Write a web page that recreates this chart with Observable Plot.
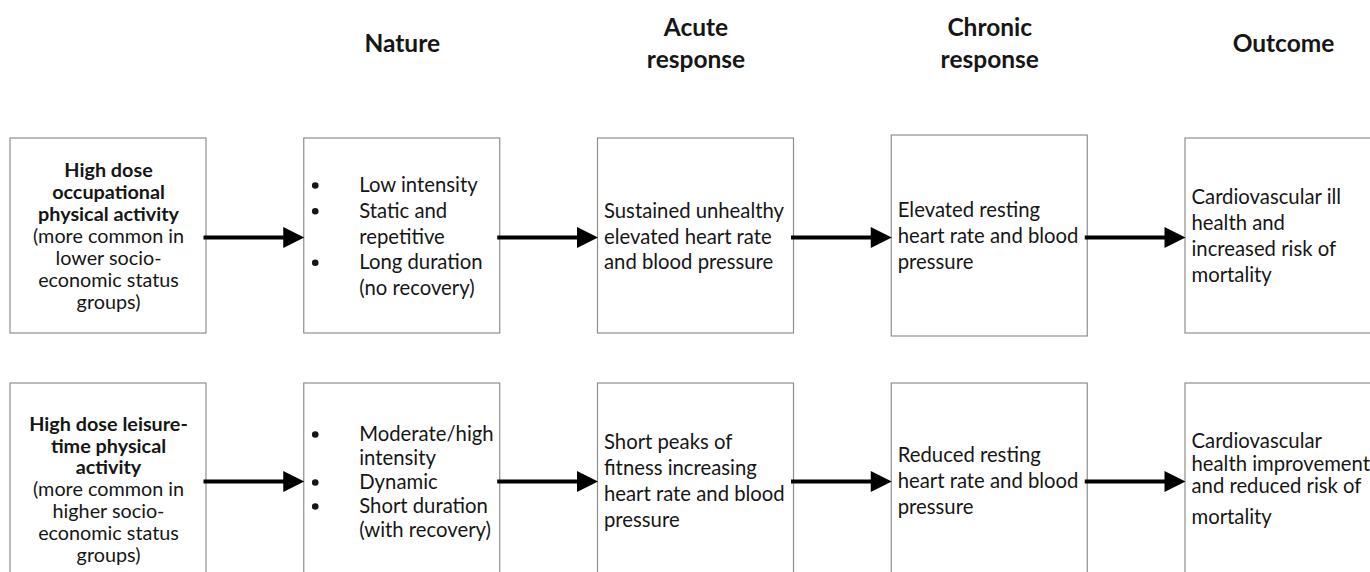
<!DOCTYPE html>
<html>
<head>
<meta charset="utf-8">
<script src="https://cdn.jsdelivr.net/npm/d3@7"></script>
<script src="https://cdn.jsdelivr.net/npm/@observablehq/plot@0.6"></script>
<style>
  html, body { margin: 0; padding: 0; background: white; overflow: hidden; }
  #chart svg { overflow: hidden; display: block; }
</style>
</head>
<body>
<div id="chart"></div>
<script>
// ---------- data ----------
const stages = ["Nature", "Acute\nresponse", "Chronic\nresponse", "Outcome"];
const exposureBold = [
  ["High dose", "occupational", "physical activity"],
  ["High dose leisure-", "time physical", "activity"]
];
const exposureNote = [
  ["(more common in", "lower socio-", "economic status", "groups)"],
  ["(more common in", "higher socio-", "economic status", "groups)"]
];
const natureItems = [
  [["Low intensity"], ["Static and", "repetitive"], ["Long duration", "(no recovery)"]],
  [["Moderate/high", "intensity"], ["Dynamic"], ["Short duration", "(with recovery)"]]
];
const acuteText = [
  ["Sustained unhealthy", "elevated heart rate", "and blood pressure"],
  ["Short peaks of", "fitness increasing", "heart rate and blood", "pressure"]
];
const chronicText = [
  ["Elevated resting", "heart rate and blood", "pressure"],
  ["Reduced resting", "heart rate and blood", "pressure"]
];
const outcomeText = [
  ["Cardiovascular ill", "health and", "increased risk of", "mortality"],
  ["Cardiovascular", "health improvement", "and reduced risk of", "mortality"]
];

// ---------- layout ----------
const W = 1370, H = 572;
const colLeft = i => 10 + i * 293.75;
const boxW = 196, boxH = 195;
const rowTop = r => 138 + r * 245;
const arrowY = r => 237 + r * 244;
const font = "Lato, 'Open Sans', sans-serif";
const ink = "#161616";
const fs = 20.3, fsExpo = 19.8;

// text line layout: first line y and steps
const lay = {
  expo:    [{y0: 170, step: 22}, {y0: 424, step: 21.8}],
  nature:  [{y0: 185, step: 25.75}, {y0: 434, step: 24}],
  acute:   [{y0: 211, step: 25.5}, {y0: 442, step: 26}],
  chronic: [{y0: 210, step: 26}, {y0: 455, step: 26}],
  outcome: [{y0: 197, step: 26}, {y0: 441, gaps: [22.5, 22.5, 31]}]
};
function place(lines, l) {
  let y = l.y0;
  return lines.map((t, i) => {
    if (i > 0) y += l.gaps ? l.gaps[i - 1] : l.step;
    return {t, y};
  });
}

const boxes = [];
for (let r = 0; r < 2; r++) for (let c = 0; c < 5; c++) {
  const tall = (r === 0 && c === 3) ? 3 : 0;
  boxes.push({x1: colLeft(c), x2: colLeft(c) + boxW, y1: rowTop(r) - tall, y2: rowTop(r) + boxH + tall});
}
const arrows = [];
for (let r = 0; r < 2; r++) for (let c = 0; c < 4; c++) {
  arrows.push({x1: colLeft(c) + boxW - 3, tip: colLeft(c + 1), y: arrowY(r)});
}

const boldLines = [], centerLines = [], leftLines = [], bullets = [];
for (let r = 0; r < 2; r++) {
  const all = place([...exposureBold[r], ...exposureNote[r]], lay.expo[r]);
  all.forEach((d, i) => (i < exposureBold[r].length ? boldLines : centerLines)
    .push({t: d.t, x: colLeft(0) + boxW / 2, y: d.y}));
  const flat = [];
  natureItems[r].forEach(item => item.forEach((t, j) => flat.push({t, bullet: j === 0})));
  place(flat.map(d => d.t), lay.nature[r]).forEach((d, i) => {
    leftLines.push({t: d.t, x: colLeft(1) + 55, y: d.y});
    if (flat[i].bullet) bullets.push({x: colLeft(1) + 11, y: d.y});
  });
  [[acuteText, "acute", 2], [chronicText, "chronic", 3], [outcomeText, "outcome", 4]].forEach(([arr, key, c]) => {
    place(arr[r], lay[key][r]).forEach(d => leftLines.push({t: d.t, x: colLeft(c) + 6, y: d.y}));
  });
}
const headers = stages.map((s, i) => ({t: s, x: colLeft(i + 1) + boxW / 2, y: 41}));

const arrowHead = {
  draw(ctx, size) {
    const r = Math.sqrt(size / Math.PI);
    ctx.moveTo(r, 0);
    ctx.lineTo(-r, -r);
    ctx.lineTo(-r, r);
    ctx.closePath();
  }
};

const plot = Plot.plot({
  width: W, height: H, margin: 0,
  style: {background: "white", fontFamily: font},
  x: {domain: [0, W], range: [0, W], axis: null},
  y: {domain: [0, H], range: [0, H], axis: null},
  marks: [
    Plot.rect(boxes, {x1: "x1", x2: "x2", y1: "y1", y2: "y2", fill: "white", stroke: "#8f8f8f", strokeWidth: 1.2}),
    Plot.link(arrows, {x1: "x1", x2: d => d.tip - 14, y1: "y", y2: "y", stroke: "black", strokeWidth: 4}),
    Plot.dot(arrows, {x: d => d.tip - 10.5, y: "y", r: 10.5, symbol: arrowHead, fill: "black", stroke: null}),
    Plot.text(headers, {x: "x", y: "y", text: "t", fontSize: 24.5, fontWeight: "bold", lineHeight: 1.3, fill: ink, fontFamily: font}),
    Plot.text(boldLines, {x: "x", y: "y", text: "t", fontSize: fsExpo, fontWeight: "bold", fill: ink, textAnchor: "middle", fontFamily: font}),
    Plot.text(centerLines, {x: "x", y: "y", text: "t", fontSize: fsExpo, fill: ink, textAnchor: "middle", fontFamily: font}),
    Plot.text(leftLines, {x: "x", y: "y", text: "t", fontSize: fs, fill: ink, textAnchor: "start", fontFamily: font}),
    Plot.dot(bullets, {x: "x", y: "y", r: 3.3, fill: ink, stroke: null})
  ]
});
document.getElementById("chart").appendChild(plot);
</script>
</body>
</html>
